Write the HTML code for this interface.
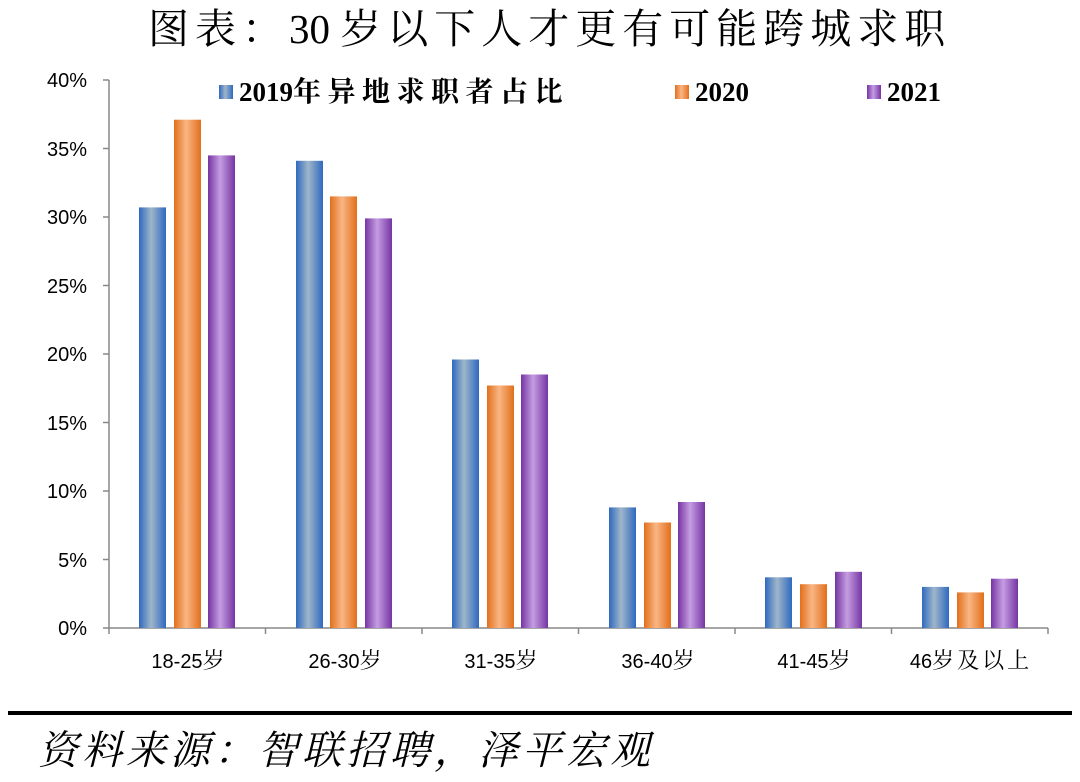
<!DOCTYPE html>
<html><head><meta charset="utf-8"><style>
body{margin:0;background:#fff;width:1080px;height:777px;overflow:hidden}
</style></head><body>
<svg width="1080" height="777" xmlns="http://www.w3.org/2000/svg">
<defs>
<linearGradient id="b" x1="0" x2="1"><stop offset="0" stop-color="#2f69c0"/><stop offset="0.45" stop-color="#9fb6c9"/><stop offset="1" stop-color="#2f69c0"/></linearGradient>
<linearGradient id="o" x1="0" x2="1"><stop offset="0" stop-color="#e26f1c"/><stop offset="0.45" stop-color="#f9b684"/><stop offset="1" stop-color="#e26f1c"/></linearGradient>
<linearGradient id="p" x1="0" x2="1"><stop offset="0" stop-color="#7535a3"/><stop offset="0.45" stop-color="#c59de2"/><stop offset="1" stop-color="#7535a3"/></linearGradient>
</defs>
<text x="148" y="43" font-family="'Liberation Serif','Noto Serif CJK SC',serif" font-size="41" fill="#000"><tspan letter-spacing="6">图表：</tspan><tspan>30 </tspan><tspan letter-spacing="6">岁以下人才更有可能跨城求职</tspan></text>
<g font-family="'Liberation Sans',sans-serif" font-size="20" fill="#000" text-anchor="end">
<text x="87" y="635">0%</text><text x="87" y="567">5%</text><text x="87" y="498">10%</text><text x="87" y="430">15%</text><text x="87" y="361">20%</text><text x="87" y="293">25%</text><text x="87" y="224">30%</text><text x="87" y="156">35%</text><text x="87" y="87">40%</text>
</g>
<g stroke="#888" stroke-width="1.5">
<line x1="109" y1="80" x2="109" y2="628"/>
<line x1="109" y1="628" x2="1048" y2="628"/>
<line x1="103" y1="80" x2="109" y2="80"/><line x1="103" y1="148.5" x2="109" y2="148.5"/><line x1="103" y1="217" x2="109" y2="217"/><line x1="103" y1="285.5" x2="109" y2="285.5"/><line x1="103" y1="354" x2="109" y2="354"/><line x1="103" y1="422.5" x2="109" y2="422.5"/><line x1="103" y1="491" x2="109" y2="491"/><line x1="103" y1="559.5" x2="109" y2="559.5"/><line x1="103" y1="628" x2="109" y2="628"/>
<line x1="109" y1="628" x2="109" y2="634"/><line x1="265.5" y1="628" x2="265.5" y2="634"/><line x1="422" y1="628" x2="422" y2="634"/><line x1="578.5" y1="628" x2="578.5" y2="634"/><line x1="735" y1="628" x2="735" y2="634"/><line x1="891.5" y1="628" x2="891.5" y2="634"/><line x1="1048" y1="628" x2="1048" y2="634"/>
</g>
<g>
<rect x="139" y="207.4" width="27" height="420.6" fill="url(#b)"/><rect x="174" y="119.7" width="27" height="508.3" fill="url(#o)"/><rect x="208" y="155.4" width="27" height="472.6" fill="url(#p)"/>
<rect x="296" y="160.8" width="27" height="467.2" fill="url(#b)"/><rect x="330" y="196.4" width="27" height="431.6" fill="url(#o)"/><rect x="365" y="218.4" width="27" height="409.6" fill="url(#p)"/>
<rect x="452" y="359.5" width="27" height="268.5" fill="url(#b)"/><rect x="487" y="385.5" width="27" height="242.5" fill="url(#o)"/><rect x="521" y="374.5" width="27" height="253.5" fill="url(#p)"/>
<rect x="609" y="507.4" width="27" height="120.6" fill="url(#b)"/><rect x="644" y="522.5" width="27" height="105.5" fill="url(#o)"/><rect x="678" y="502" width="27" height="126" fill="url(#p)"/>
<rect x="765" y="577.3" width="27" height="50.7" fill="url(#b)"/><rect x="800" y="584.2" width="27" height="43.8" fill="url(#o)"/><rect x="835" y="571.8" width="27" height="56.2" fill="url(#p)"/>
<rect x="922" y="586.9" width="27" height="41.1" fill="url(#b)"/><rect x="957" y="592.4" width="27" height="35.6" fill="url(#o)"/><rect x="991" y="578.7" width="27" height="49.3" fill="url(#p)"/>
</g>
<g font-family="'Liberation Sans','Noto Serif CJK SC',sans-serif" font-size="20" fill="#000" text-anchor="middle">
<text x="188" y="668">18-25<tspan font-size="22">岁</tspan></text><text x="345" y="668">26-30<tspan font-size="22">岁</tspan></text><text x="501" y="668">31-35<tspan font-size="22">岁</tspan></text><text x="658" y="668">36-40<tspan font-size="22">岁</tspan></text><text x="814" y="668">41-45<tspan font-size="22">岁</tspan></text><text x="971" y="668">46<tspan font-size="22" letter-spacing="3">岁及以上</tspan></text>
</g>
<g font-family="'Liberation Serif','Noto Serif CJK SC',serif" font-size="27" font-weight="bold" fill="#000">
<rect x="219" y="85" width="14" height="14" fill="url(#b)"/><text x="239" y="101">2019<tspan font-size="28" letter-spacing="6.5">年异地求职者占比</tspan></text>
<rect x="675" y="85" width="14" height="14" fill="url(#o)"/><text x="695" y="101">2020</text>
<rect x="867" y="85" width="14" height="14" fill="url(#p)"/><text x="887" y="101">2021</text>
</g>
<rect x="8" y="711" width="1064" height="4" fill="#000"/>
<text x="38" y="764" font-family="'Liberation Serif','Noto Serif CJK SC',serif" font-size="40" font-style="italic" letter-spacing="4" fill="#000">资料来源：智联招聘，泽平宏观</text>
</svg>
</body></html>
